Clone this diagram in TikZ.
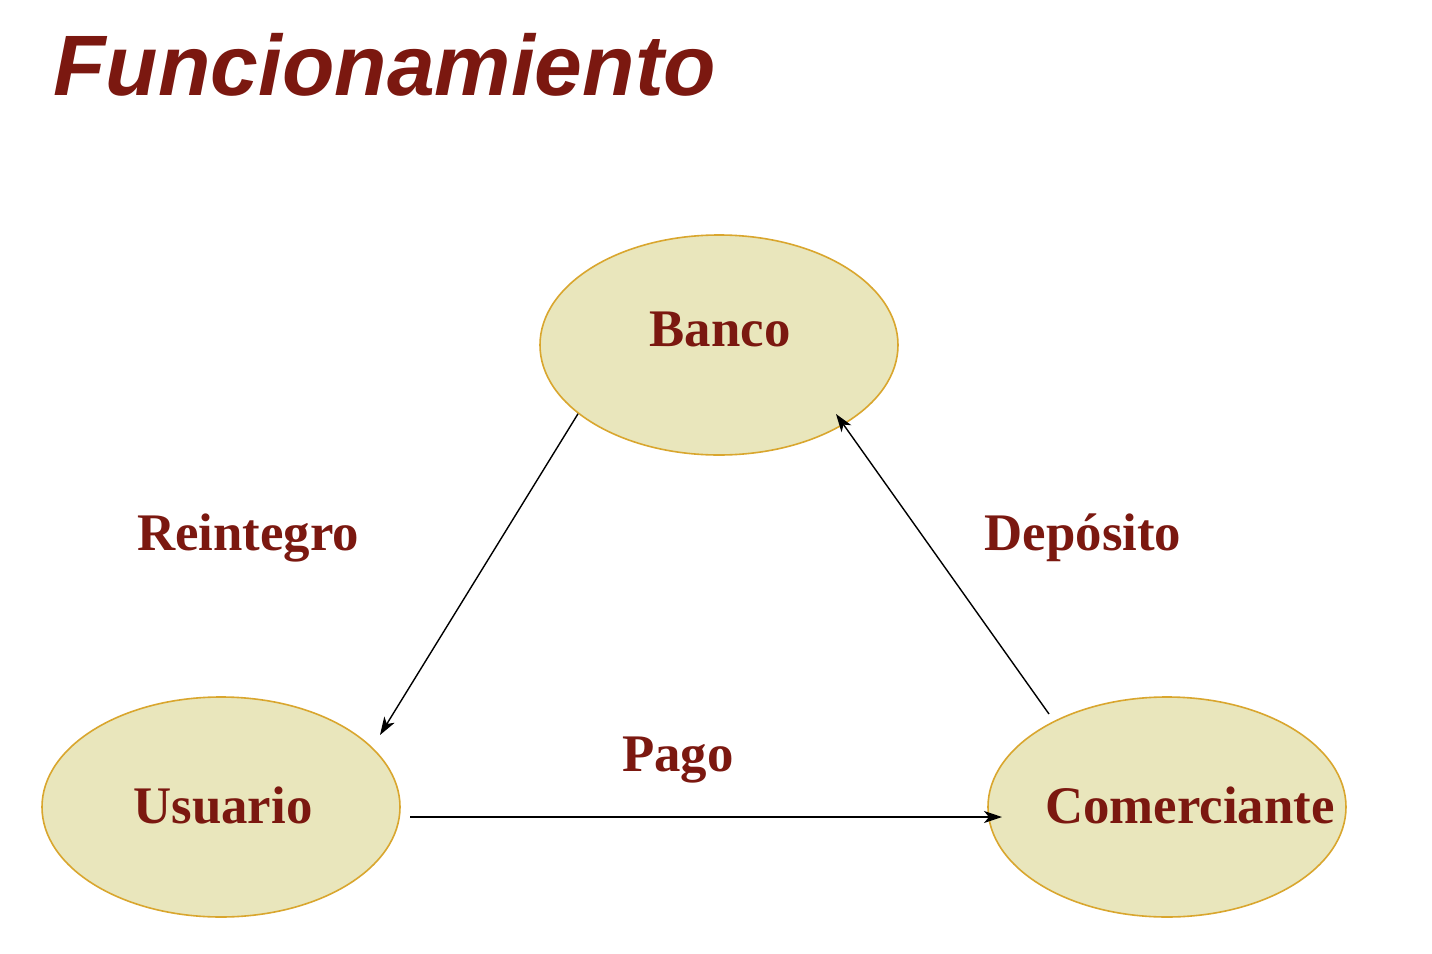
\documentclass[tikz,border=0pt]{standalone}
\usepackage{fontspec}
\setmainfont{Liberation Serif}
\newfontfamily\titlefont{Liberation Sans}
\usetikzlibrary{arrows.meta,shapes.geometric}
\definecolor{darkred}{HTML}{7B1810}
\definecolor{ellfill}{HTML}{E9E6BC}
\definecolor{elldraw}{HTML}{D9A62E}
\tikzset{
  entity/.style={ellipse, fill=ellfill, draw=elldraw, line width=0.8pt, minimum width=358*0.5pt, minimum height=220*0.5pt, inner sep=0pt},
  lbl/.style={anchor=base, text=darkred, font=\fontsize{26.4}{28}\selectfont\bfseries, inner sep=0pt},
  arr/.style={-{Stealth[length=9pt,width=6pt,inset=2.5pt]}, line width=0.7pt, black},
}
\begin{document}
\begin{tikzpicture}[x=0.5pt,y=-0.5pt]
\useasboundingbox (0,0) rectangle (1432,954);
\fill[white] (0,0) rectangle (1432,954);
\node[anchor=base west, inner sep=0pt, text=darkred, font=\titlefont\fontsize{42.9}{45}\selectfont\bfseries\itshape] (title) at (53,95) {Funcionamiento};
\node[entity] (banco) at (719,345) {};
\node[entity] (usuario) at (221,807) {};
\node[entity] (comer) at (1167,807) {};
\node[lbl] (tb) at (720,346) {Banco};
\node[lbl] (tu) at (223,823) {Usuario};
\node[lbl] (tc) at (1190,823) {Comerciante};
\node[lbl] (tr) at (248,550) {Reintegro};
\node[lbl] (td) at (1083,550) {Depósito};
\node[lbl] (tp) at (678,771) {Pago};
\coordinate (rend) at (380,735);
\coordinate (dstart) at (1049,714);
\coordinate (dend) at (836,414);
\coordinate (pstart) at (410,817);
\coordinate (pend) at (1002,817);
\draw[arr] (banco.206) -- (rend);
\draw[arr] (dstart) -- (dend);
\draw[arr, line width=1pt] (pstart) -- (pend);
\end{tikzpicture}
\end{document}
